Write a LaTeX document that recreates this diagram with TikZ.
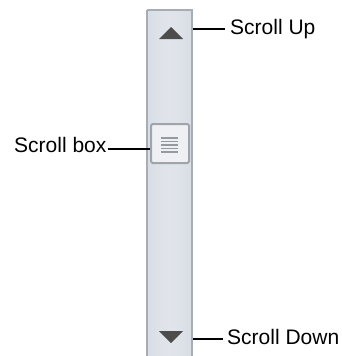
\documentclass[tikz,border=0pt]{standalone}
\usepackage{fontspec}
\setmainfont{Liberation Sans}
\definecolor{trackfill}{HTML}{D9DEE6}
\definecolor{trackmid}{HTML}{E1E5EB}
\definecolor{trackborder}{HTML}{A8ADB5}
\definecolor{thumbfill}{HTML}{EEF0F3}
\definecolor{thumbborder}{HTML}{A0A4AB}
\definecolor{griplines}{HTML}{959AA1}
\definecolor{arrowgray}{HTML}{4C4C4C}
\tikzset{
  lbl/.style={inner sep=0pt, font=\fontsize{21}{24}\selectfont, anchor=base west},
  leader/.style={draw=black, line width=1.4pt},
}
\begin{document}
\begin{tikzpicture}[x=1pt,y=-1pt]
\useasboundingbox (0,0) rectangle (342,356);
% track
\shade[left color=trackfill, right color=trackfill, middle color=trackmid] (147,10) rectangle (192,360);
\draw[trackborder, line width=2.5pt] (147,10) -- (147,360) (147,10) -- (192,10) -- (192,360);
\coordinate (trackup) at (193,29);
\coordinate (trackdown) at (193,339);
% up arrow
\fill[arrowgray] (159,39) -- (183,39) -- (171,27) -- cycle;
% down arrow
\fill[arrowgray] (159,331) -- (183,331) -- (171,343) -- cycle;
% thumb
\node[draw=thumbborder, fill=thumbfill, line width=2pt, rounded corners=1.5pt,
      minimum width=38pt, minimum height=39pt, inner sep=0pt] (thumb) at (170,143.5) {};
\foreach \yy in {138,141.5,145,148.5,152}
  \draw[griplines, line width=1.8pt] (161,\yy) -- (178,\yy);
% labels
\node[lbl] (lblup) at (230,34) {Scroll Up};
\node[lbl] (lblbox) at (14,152) {Scroll box};
\node[lbl] (lbldown) at (227,344) {Scroll Down};
\coordinate (upend) at (225,29);
\coordinate (boxend) at (108,149);
\coordinate (downend) at (223,339);
\draw[leader] (trackup) -- (upend);
\draw[leader] (boxend) -- (thumb.west |- boxend);
\draw[leader] (trackdown) -- (downend);
\end{tikzpicture}
\end{document}
